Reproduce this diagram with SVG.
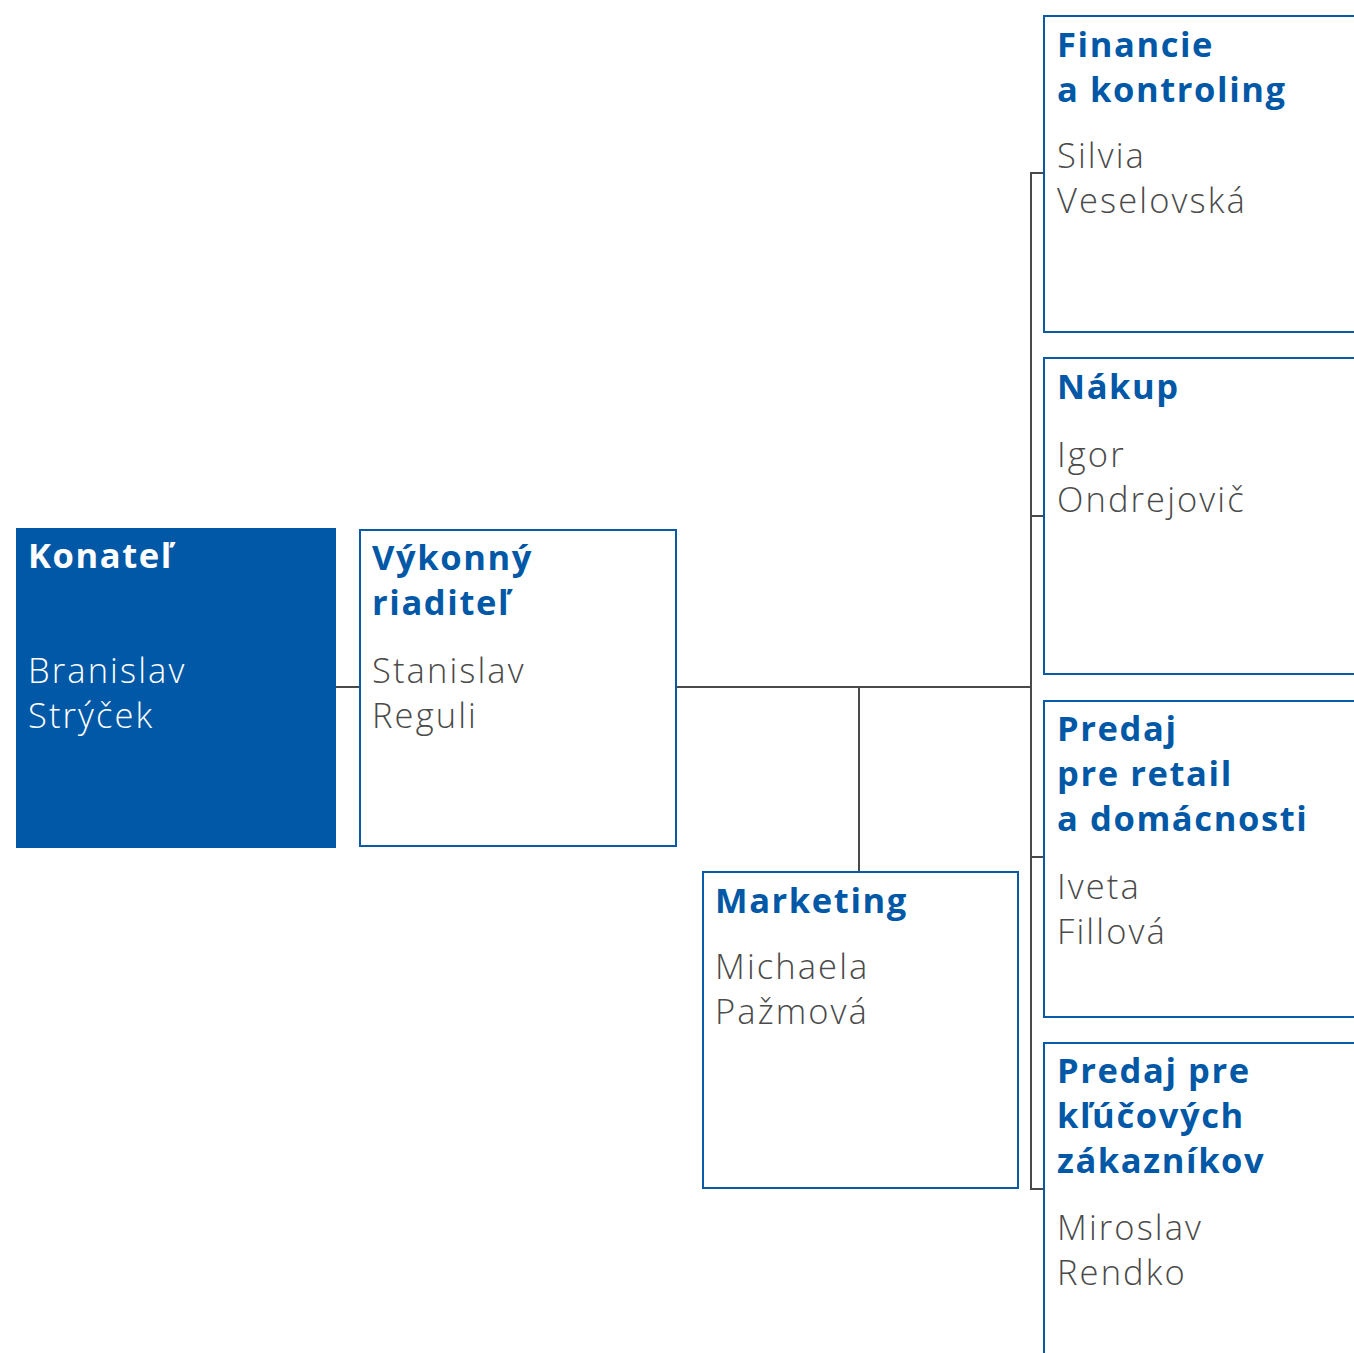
<svg xmlns="http://www.w3.org/2000/svg" width="1354" height="1353" viewBox="0 0 1354 1353">
<style>
.box{fill:#fff;stroke:#0a5aa8;stroke-width:2}
.fill{fill:#0058a6}
.t{font-family:"Open Sans","Noto Sans",sans-serif;font-weight:700;font-size:34.5px;fill:#0058a6;letter-spacing:1.6px}
.n{font-family:"Open Sans","Noto Sans",sans-serif;font-weight:300;font-size:34.5px;fill:#4a4a4a;letter-spacing:2.1px}
.w{fill:#fff}
.c{fill:none;stroke:#4a4a4a;stroke-width:2}
</style>
<g id="connectors">
<path class="c" d="M336,687 H359"/>
<path class="c" d="M677,687 H1031"/>
<path class="c" d="M859,687 V871"/>
<path class="c" d="M1043,173 H1031 V1189 H1043"/>
<path class="c" d="M1031,516 H1043"/>
<path class="c" d="M1031,857 H1043"/>
</g>
<g id="konatel">
<rect class="fill" x="16" y="528" width="320" height="320"/>
<text class="t w" x="28" y="568">Konateľ</text>
<text class="n w" x="28" y="683">Branislav</text>
<text class="n w" x="28" y="728">Strýček</text>
</g>
<g id="vykonny">
<rect class="box" x="360" y="530" width="316" height="316"/>
<text class="t" x="372" y="570">Výkonný</text>
<text class="t" x="372" y="615">riaditeľ</text>
<text class="n" x="372" y="683">Stanislav</text>
<text class="n" x="372" y="728">Reguli</text>
</g>
<g id="marketing">
<rect class="box" x="703" y="872" width="315" height="316"/>
<text class="t" x="715" y="913">Marketing</text>
<text class="n" x="715" y="979">Michaela</text>
<text class="n" x="715" y="1024">Pažmová</text>
</g>
<g id="financie">
<rect class="box" x="1044" y="16" width="330" height="316"/>
<text class="t" x="1057" y="57">Financie</text>
<text class="t" x="1057" y="102">a kontroling</text>
<text class="n" x="1057" y="168">Silvia</text>
<text class="n" x="1057" y="213">Veselovská</text>
</g>
<g id="nakup">
<rect class="box" x="1044" y="358" width="330" height="316"/>
<text class="t" x="1057" y="399">Nákup</text>
<text class="n" x="1057" y="467">Igor</text>
<text class="n" x="1057" y="512">Ondrejovič</text>
</g>
<g id="predaj-retail">
<rect class="box" x="1044" y="701" width="330" height="316"/>
<text class="t" x="1057" y="741">Predaj</text>
<text class="t" x="1057" y="786">pre retail</text>
<text class="t" x="1057" y="831">a domácnosti</text>
<text class="n" x="1057" y="899">Iveta</text>
<text class="n" x="1057" y="944">Fillová</text>
</g>
<g id="predaj-klucovych">
<rect class="box" x="1044" y="1043" width="330" height="330"/>
<text class="t" x="1057" y="1083">Predaj pre</text>
<text class="t" x="1057" y="1128">kľúčových</text>
<text class="t" x="1057" y="1173">zákazníkov</text>
<text class="n" x="1057" y="1240">Miroslav</text>
<text class="n" x="1057" y="1285">Rendko</text>
</g>
</svg>
